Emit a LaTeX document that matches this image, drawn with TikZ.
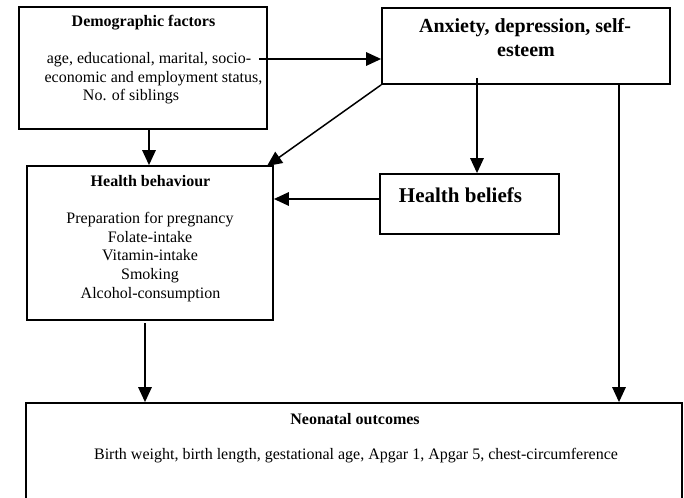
\documentclass[tikz,border=0pt]{standalone}
\usepackage{fontspec}
\setmainfont{Liberation Serif}
\usetikzlibrary{arrows.meta}
\tikzset{
  box/.style={draw, line width=1.8bp, rectangle, inner sep=0pt},
  arr/.style={line width=1.5bp, -{Triangle[length=15bp,width=13.5bp]}},
  txt/.style={inner sep=0pt, anchor=base, align=center},
  small/.style={font=\fontsize{16bp}{18.5bp}\selectfont},
  smallb/.style={font=\fontsize{16bp}{18.5bp}\selectfont\bfseries},
  bigb/.style={font=\fontsize{20bp}{24bp}\selectfont\bfseries},
  neob/.style={font=\fontsize{16bp}{18bp}\selectfont\bfseries},
  neo/.style={font=\fontsize{16bp}{18bp}\selectfont},
}
\begin{document}
\begin{tikzpicture}[x=1bp,y=-1bp]
\clip (0,0) rectangle (684,498);
\fill[white] (0,0) rectangle (684,498);
% boxes
\node[box, minimum width=248bp, minimum height=122bp] (demo) at (143,68) {};
\node[box, minimum width=288bp, minimum height=76bp] (anx) at (526,46) {};
\node[box, minimum width=179bp, minimum height=60bp] (beliefs) at (469.5,204) {};
\node[box, minimum width=246bp, minimum height=154bp] (behav) at (150,243) {};
\node[box, minimum width=656bp, minimum height=157bp] (neo) at (354,481.5) {};
% texts
\node[txt, smallb] (demot) at (143.5,27) {Demographic factors};
\node[txt, small] (demo1) at (149,64) {age, educational, marital, socio-};
\node[txt, small] (demo2) at (153.5,82.5) {economic and employment status,};
\node[txt, small] (demo3) at (131,101) {No. of siblings};
\node[txt, bigb] (anx1) at (525,33) {Anxiety, depression, self-};
\node[txt, bigb] (anx2) at (526,57) {esteem};
\node[txt, font=\fontsize{21bp}{24bp}\selectfont\bfseries] (belt) at (460.5,203) {Health beliefs};
\node[txt, smallb] (behavt) at (150.5,187) {Health behaviour};
\node[txt, small] (behav1) at (150,224) {Preparation for pregnancy};
\node[txt, small] (behav2) at (150,242.5) {Folate-intake};
\node[txt, small] (behav3) at (150,261) {Vitamin-intake};
\node[txt, small] (behav4) at (150,279.5) {Smoking};
\node[txt, small] (behav5) at (150.5,298) {Alcohol-consumption};
\node[txt, neob] (neot) at (355,424) {Neonatal outcomes};
\node[txt, neo] (neo1) at (356,459) {Birth weight, birth length, gestational age, Apgar 1, Apgar 5, chest-circumference};
% connector coordinates
\coordinate (d1) at (259,59);
\coordinate (c1) at (149,0);
\coordinate (b1) at (267,166);
\coordinate (a2) at (477,78);
\coordinate (h1) at (0,199);
\coordinate (a3) at (619,0);
\coordinate (b2) at (145,323);
% connectors
\draw[arr] (d1) -- (d1 -| anx.west);
\draw[arr] (c1 |- demo.south) -- (c1 |- behav.north);
\draw[arr] (anx.south west) -- (b1);
\draw[arr] (a2) -- (a2 |- beliefs.north);
\draw[arr] (h1 -| beliefs.west) -- (h1 -| behav.east);
\draw[arr] (a3 |- anx.south) -- (a3 |- neo.north);
\draw[arr] (b2) -- (b2 |- neo.north);
\end{tikzpicture}
\end{document}
